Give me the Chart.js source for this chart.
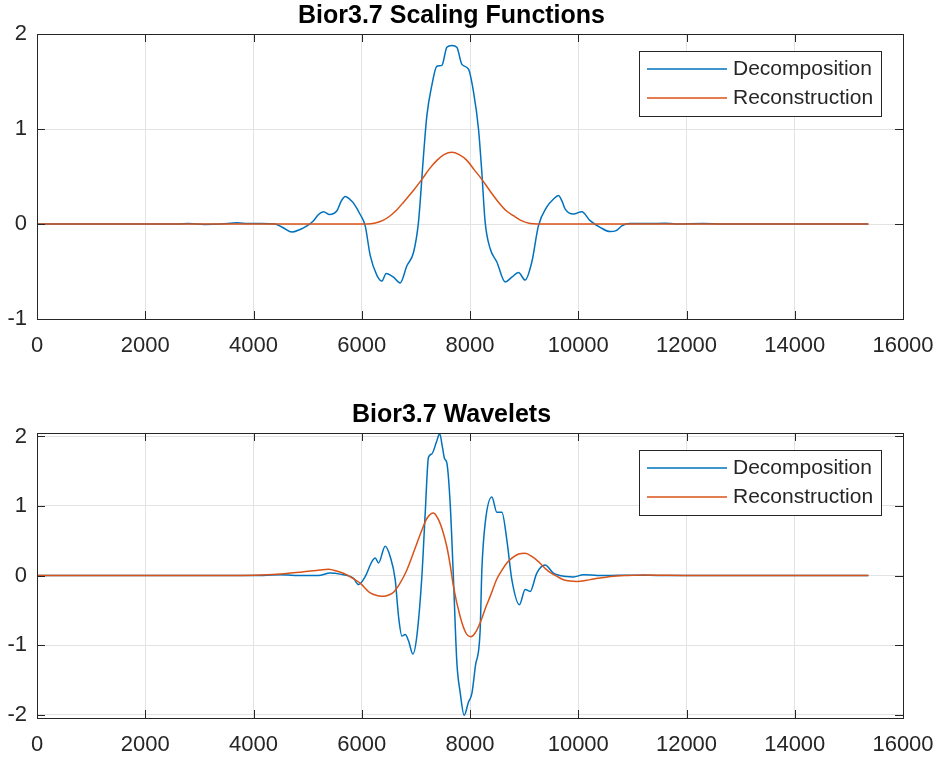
<!DOCTYPE html>
<html>
<head>
<meta charset="utf-8">
<title>Bior3.7</title>
<script src="https://cdn.jsdelivr.net/npm/chart.js@4.4.1/dist/chart.umd.min.js"></script>
<style>
    html, body { margin: 0; padding: 0; background: #fff; }
    #wrap { position: relative; width: 939px; height: 759px; }
    canvas { position: absolute; left: 0; }
    #scalChart { top: 0; }
    #wavChart { top: 399px; }
</style>
</head>
<body>
<div id="wrap">
    <canvas id="scalChart" width="939" height="360"></canvas>
    <canvas id="wavChart" width="939" height="360"></canvas>
</div>
<script>
let scalChart;
let wavChart;

const seriesLabels = ['Decomposition', 'Reconstruction'];
const xTicks = [0, 2000, 4000, 6000, 8000, 10000, 12000, 14000, 16000];
const scalYTicks = [-1, 0, 1, 2];
const wavYTicks = [-2, -1, 0, 1, 2];

// Scaling functions
const scalDecX = [0, 2600, 2800, 3100, 3400, 3700, 3900, 4150, 4400, 4550, 4710, 4850, 4987, 5110, 5200, 5294, 5405, 5541, 5620, 5694, 5780, 5848, 5971, 6064, 6156, 6280, 6372, 6452, 6587, 6710, 6834, 6956, 7048, 7141, 7203, 7295, 7388, 7480, 7573, 7665, 7757, 7850, 7972, 8065, 8157, 8219, 8280, 8373, 8496, 8650, 8773, 8895, 9019, 9142, 9264, 9420, 9540, 9634, 9700, 9757, 9911, 10066, 10219, 10404, 10589, 10700, 10805, 10950, 11300, 11600, 11800, 12300, 12700, 15360];
const scalDecY = [0, 0, 0.006, -0.004, 0, 0.012, 0.004, 0.006, 0, -0.04, -0.085, -0.06, -0.02, 0.035, 0.10, 0.13, 0.10, 0.14, 0.24, 0.29, 0.26, 0.22, 0.10, -0.02, -0.33, -0.54, -0.60, -0.52, -0.56, -0.62, -0.44, -0.30, 0.02, 0.72, 1.14, 1.46, 1.66, 1.67, 1.86, 1.88, 1.86, 1.68, 1.63, 1.39, 1.00, 0.54, 0.02, -0.26, -0.40, -0.61, -0.56, -0.51, -0.59, -0.40, -0.02, 0.18, 0.26, 0.30, 0.24, 0.16, 0.105, 0.13, 0.035, -0.035, -0.08, -0.07, -0.02, 0.004, 0.004, 0.008, 0, 0.004, 0, 0];
const scalRecX = [0, 6100, 6250, 6400, 6526, 6650, 6772, 6950, 7111, 7250, 7388, 7520, 7665, 7800, 7942, 8080, 8219, 8380, 8526, 8670, 8803, 8950, 9111, 9250, 15360];
const scalRecY = [0, 0, 0.01, 0.04, 0.087, 0.15, 0.23, 0.35, 0.47, 0.58, 0.67, 0.73, 0.755, 0.73, 0.67, 0.57, 0.47, 0.34, 0.23, 0.14, 0.087, 0.035, 0.005, 0, 0];

// Wavelets
const wavDecX = [0, 3600, 4000, 4500, 4900, 5200, 5417, 5600, 5848, 5940, 6064, 6187, 6249, 6310, 6433, 6526, 6618, 6680, 6742, 6803, 6864, 6945, 7018, 7111, 7172, 7233, 7295, 7380, 7440, 7490, 7530, 7572, 7634, 7695, 7757, 7818, 7892, 7972, 8034, 8100, 8188, 8219, 8280, 8404, 8496, 8589, 8681, 8773, 8914, 9019, 9111, 9234, 9388, 9541, 9788, 9911, 10096, 10500, 11000, 11600, 15360];
const wavDecY = [0, 0, 0, 0.01, 0, 0, 0.035, 0.02, -0.04, -0.13, -0.015, 0.20, 0.25, 0.18, 0.42, 0.27, -0.06, -0.59, -0.87, -0.85, -0.94, -1.13, -0.87, -0.01, 0.89, 1.70, 1.75, 1.92, 2.04, 1.85, 1.68, 1.62, 1.03, -0.06, -1.25, -1.68, -2.01, -1.82, -1.70, -1.30, -0.78, 0.08, 0.75, 1.13, 0.91, 0.91, 0.51, -0.06, -0.42, -0.20, -0.23, 0.035, 0.15, 0.035, -0.015, -0.02, 0.01, 0, 0.005, 0, 0];
const wavRecX = [0, 3500, 4000, 4500, 4900, 5233, 5387, 5550, 5725, 5850, 5971, 6156, 6300, 6402, 6500, 6587, 6700, 6834, 7018, 7110, 7203, 7326, 7420, 7500, 7573, 7634, 7695, 7818, 7920, 8016, 8100, 8188, 8300, 8373, 8496, 8557, 8681, 8773, 8900, 9019, 9150, 9264, 9420, 9480, 9600, 9726, 9850, 9972, 10150, 10280, 10465, 10600, 10900, 11200, 11600, 12000, 15360];
const wavRecY = [0, 0, 0.003, 0.02, 0.05, 0.08, 0.09, 0.06, 0.01, -0.05, -0.11, -0.25, -0.29, -0.30, -0.28, -0.24, -0.12, 0.08, 0.46, 0.65, 0.82, 0.90, 0.80, 0.63, 0.41, 0.15, -0.16, -0.59, -0.82, -0.88, -0.82, -0.68, -0.44, -0.30, -0.05, 0.035, 0.18, 0.25, 0.31, 0.32, 0.27, 0.20, 0.08, 0.045, -0.01, -0.06, -0.08, -0.085, -0.07, -0.05, -0.03, -0.015, 0, 0.008, 0.003, 0, 0];

const decColor = '#0072BD';
const recColor = '#D95319';
const axisColor = '#262626';

Chart.defaults.font.family = "'Liberation Sans', Arial, sans-serif";
Chart.defaults.color = axisColor;

//////////////////////////////////////////////
// Helpers
//////////////////////////////////////////////
function toPoints(xs, ys) {
    return xs.map((x, i) => ({ x: x, y: ys[i] }));
}

//////////////////////////////////////////////
// MATLAB style box, inner ticks and boxed legend
//////////////////////////////////////////////
const matlabAxes = {
    id: 'matlabAxes',
    afterDraw(chart) {
        const ctx = chart.ctx;
        const area = chart.chartArea;
        const xs = chart.scales.x;
        const ys = chart.scales.y;
        const tickLen = 8;

        ctx.save();
        ctx.strokeStyle = axisColor;
        ctx.lineWidth = 1;
        ctx.beginPath();
        xs.ticks.forEach(t => {
            const px = Math.round(xs.getPixelForValue(t.value)) + 0.5;
            ctx.moveTo(px, area.bottom);
            ctx.lineTo(px, area.bottom - tickLen);
            ctx.moveTo(px, area.top);
            ctx.lineTo(px, area.top + tickLen);
        });
        ys.ticks.forEach(t => {
            const py = Math.round(ys.getPixelForValue(t.value)) + 0.5;
            ctx.moveTo(area.left, py);
            ctx.lineTo(area.left + tickLen, py);
            ctx.moveTo(area.right, py);
            ctx.lineTo(area.right - tickLen, py);
        });
        ctx.stroke();
        ctx.strokeRect(Math.round(area.left) + 0.5, Math.round(area.top) + 0.5,
            Math.round(area.right - area.left), Math.round(area.bottom - area.top));

        // --- legend ---
        ctx.font = "21px 'Liberation Sans', Arial, sans-serif";
        ctx.textBaseline = 'middle';
        const sets = chart.data.datasets;
        let textW = 0;
        sets.forEach(ds => { textW = Math.max(textW, ctx.measureText(ds.label).width); });
        const boxW = Math.round(8 + 80 + 6 + textW + 8);
        const boxH = 65;
        const boxX = Math.round(area.right - 22 - boxW);
        const boxY = Math.round(area.top + 17);
        ctx.fillStyle = '#ffffff';
        ctx.fillRect(boxX, boxY, boxW, boxH);
        ctx.strokeStyle = axisColor;
        ctx.strokeRect(boxX + 0.5, boxY + 0.5, boxW, boxH);
        sets.forEach((ds, i) => {
            const rowY = boxY + 18 + i * 29;
            ctx.strokeStyle = ds.borderColor;
            ctx.lineWidth = 1.5;
            ctx.beginPath();
            ctx.moveTo(boxX + 8, rowY);
            ctx.lineTo(boxX + 88, rowY);
            ctx.stroke();
            ctx.fillStyle = axisColor;
            ctx.fillText(ds.label, boxX + 94, rowY);
        });
        ctx.restore();
    }
};

//////////////////////////////////////////////
// Chart Initialization
//////////////////////////////////////////////
function makeChart(canvasId, titleText, yMin, yMax, yTicks, decX, decY, recX, recY) {
    const ctx = document.getElementById(canvasId).getContext('2d');
    return new Chart(ctx, {
        type: 'line',
        data: {
            datasets: [
                {
                    label: seriesLabels[0],
                    data: toPoints(decX, decY),
                    borderColor: decColor,
                    borderWidth: 1.5,
                    pointRadius: 0,
                    cubicInterpolationMode: 'monotone',
                    fill: false,
                    order: 1
                },
                {
                    label: seriesLabels[1],
                    data: toPoints(recX, recY),
                    borderColor: recColor,
                    borderWidth: 1.5,
                    pointRadius: 0,
                    cubicInterpolationMode: 'monotone',
                    fill: false,
                    order: 0
                }
            ]
        },
        options: {
            responsive: false,
            devicePixelRatio: 1,
            animation: false,
            layout: {
                padding: { left: 0, right: 36, top: 0, bottom: 0 }
            },
            scales: {
                x: {
                    type: 'linear',
                    min: 0,
                    max: 16000,
                    afterFit: scale => {
                        scale.height = 41;
                        // let layout.padding alone decide the side margins
                        scale.paddingLeft = 0;
                        scale.paddingRight = 0;
                    },
                    afterBuildTicks: scale => { scale.ticks = xTicks.map(v => ({ value: v })); },
                    grid: { color: '#e3e3e3', drawTicks: false },
                    border: { display: false },
                    ticks: {
                        padding: 14,
                        maxRotation: 0,
                        color: axisColor,
                        font: { size: 22 },
                        callback: v => String(v)
                    }
                },
                y: {
                    type: 'linear',
                    min: yMin,
                    max: yMax,
                    afterFit: scale => { scale.width = 37; },
                    afterBuildTicks: scale => { scale.ticks = yTicks.map(v => ({ value: v })); },
                    grid: { color: '#e3e3e3', drawTicks: false },
                    border: { display: false },
                    ticks: {
                        padding: 10,
                        color: axisColor,
                        font: { size: 22 },
                        callback: v => String(v)
                    }
                }
            },
            plugins: {
                legend: { display: false },
                tooltip: { enabled: false },
                title: {
                    display: true,
                    text: titleText,
                    color: '#000000',
                    font: { size: 25, weight: 'bold' },
                    padding: { top: 1, bottom: 3 }
                }
            }
        },
        plugins: [matlabAxes]
    });
}

//////////////////////////////////////////////
// Page Load Event
//////////////////////////////////////////////
document.addEventListener('DOMContentLoaded', () => {
    scalChart = makeChart('scalChart', 'Bior3.7 Scaling Functions', -1, 2, scalYTicks,
        scalDecX, scalDecY, scalRecX, scalRecY);
    wavChart = makeChart('wavChart', 'Bior3.7 Wavelets', -2.05, 2.05, wavYTicks,
        wavDecX, wavDecY, wavRecX, wavRecY);
});
</script>
</body>
</html>
